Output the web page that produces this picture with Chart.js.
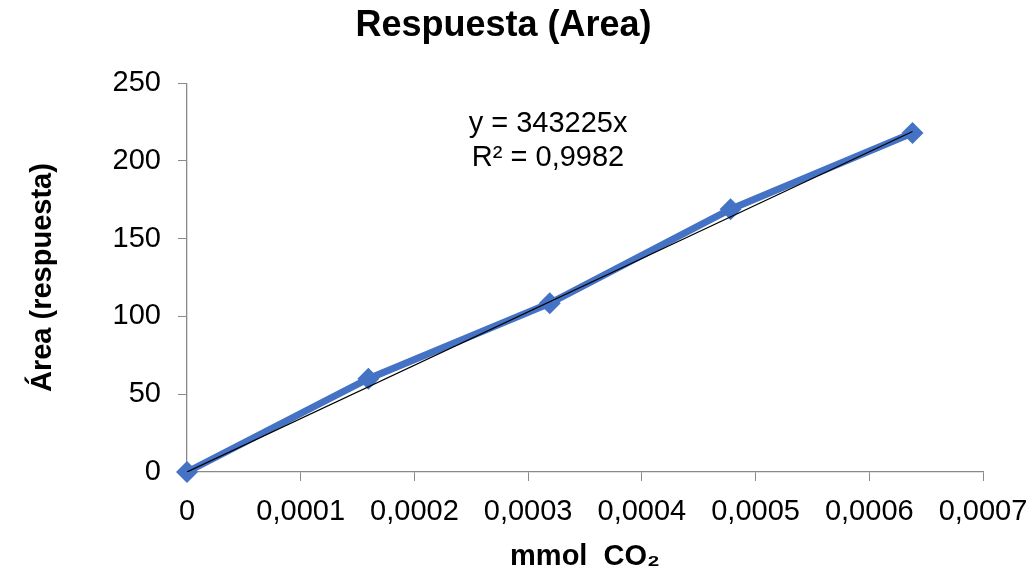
<!DOCTYPE html>
<html>
<head>
<meta charset="utf-8">
<script src="https://cdn.jsdelivr.net/npm/chart.js@4/dist/chart.umd.min.js"></script>
<style>
	html, body { margin: 0; padding: 0; background: #fff; }
	#wrap { width: 1033px; height: 577px; }
</style>
</head>
<body>
<div id="wrap"><canvas id="curveCanvas" width="1033" height="577"></canvas></div>
<script>
// measured points (mmol CO2 vs area)
var xValues = [0, 0.0001595, 0.000319, 0.000478, 0.000638];
var yValues = [0, 60, 108.5, 169, 218];

// trendline as shown in the chart: y = 343225x, R2 = 0,9982
var trendSlope = 343225;
var trendLabel = ["y = 343225x", "R² = 0,9982"];
var xTicks = [0, 0.0001, 0.0002, 0.0003, 0.0004, 0.0005, 0.0006, 0.0007];
var yTicks = [0, 50, 100, 150, 200, 250];

var fontFamily = "'Liberation Sans', Arial, sans-serif";
var blue = "#4472C4";

function toPoints(xs, ys) {
	var pts = [];
	for (var i = 0; i < xs.length; i++) {
		pts.push({ x: xs[i], y: ys[i] });
	}
	return pts;
}

var trendXs = [xValues[0], xValues[xValues.length - 1]];
var trendYs = [trendXs[0] * trendSlope, trendXs[1] * trendSlope];

// draws the equation text next to the trendline
var eqLabel = {
	id: 'eqLabel',
	afterDraw: function(chart) {
		var ctx = chart.ctx;
		var xs = chart.scales.x;
		var ys = chart.scales.y;
		ctx.save();
		ctx.font = "29px " + fontFamily;
		ctx.fillStyle = "#000";
		ctx.textAlign = "center";
		ctx.textBaseline = "middle";
		var cx = xs.getPixelForValue(0.0003175);
		ctx.fillText(trendLabel[0], cx, ys.getPixelForValue(223.8));
		ctx.fillText(trendLabel[1], cx, ys.getPixelForValue(201.9));
		ctx.restore();
	}
};

var ctx = document.getElementById("curveCanvas").getContext("2d");
var chart = new Chart(ctx, {
	type: 'scatter',
	data: {
		datasets: [
			{
				label: 'Respuesta',
				data: toPoints(xValues, yValues),
				showLine: true,
				clip: false,
				borderColor: blue,
				backgroundColor: blue,
				borderWidth: 7,
				pointStyle: 'rectRot',
				pointRadius: 11,
				pointHoverRadius: 11,
				pointBorderWidth: 0,
				order: 2
			},
			{
				label: 'Trend',
				data: toPoints(trendXs, trendYs),
				showLine: true,
				borderColor: "#000",
				borderWidth: 1.2,
				pointRadius: 0,
				order: 1
			}
		]
	},
	options: {
		responsive: false,
		animation: false,
		layout: { padding: { left: 0, right: 26, top: 0, bottom: 0 } },
		plugins: {
			legend: { display: false },
			tooltip: { enabled: false },
			title: {
				display: true,
				text: 'Respuesta (Area)',
				color: '#000',
				font: { family: fontFamily, size: 36, weight: 'bold' },
				padding: { top: 4, bottom: 36 }
			}
		},
		scales: {
			x: {
				type: 'linear',
				min: 0,
				max: 0.0007,
				afterBuildTicks: function(scale) {
					scale.ticks = xTicks.map(function(v) { return { value: v }; });
				},
				afterFit: function(scale) {
					scale.height = 105;
					scale.paddingRight = 50;
				},
				ticks: {
					color: '#000',
					font: { family: fontFamily, size: 29 },
					padding: 14,
					maxRotation: 0,
					autoSkip: false,
					callback: function(v) { return v === 0 ? '0' : v.toFixed(4).replace('.', ','); }
				},
				grid: { drawOnChartArea: false, color: '#898989', tickLength: 9 },
				border: { color: '#898989', width: 1.3 },
				title: {
					display: true,
					text: 'mmol  CO₂',
					color: '#000',
					font: { family: fontFamily, size: 29, weight: 'bold' },
					padding: { top: 4, bottom: 3 }
				}
			},
			y: {
				min: 0,
				max: 250,
				afterBuildTicks: function(scale) {
					scale.ticks = yTicks.map(function(v) { return { value: v }; });
				},
				afterFit: function(scale) { scale.width = 187; },
				ticks: {
					color: '#000',
					font: { family: fontFamily, size: 29 },
					padding: 17
				},
				grid: { drawOnChartArea: false, color: '#898989', tickLength: 9 },
				border: { color: '#898989', width: 1.3 },
				title: {
					display: true,
					text: 'Área (respuesta)',
					color: '#000',
					font: { family: fontFamily, size: 29, weight: 'bold' },
					padding: { top: 26, bottom: 0 }
				}
			}
		}
	},
	plugins: [eqLabel]
});
</script>
</body>
</html>
